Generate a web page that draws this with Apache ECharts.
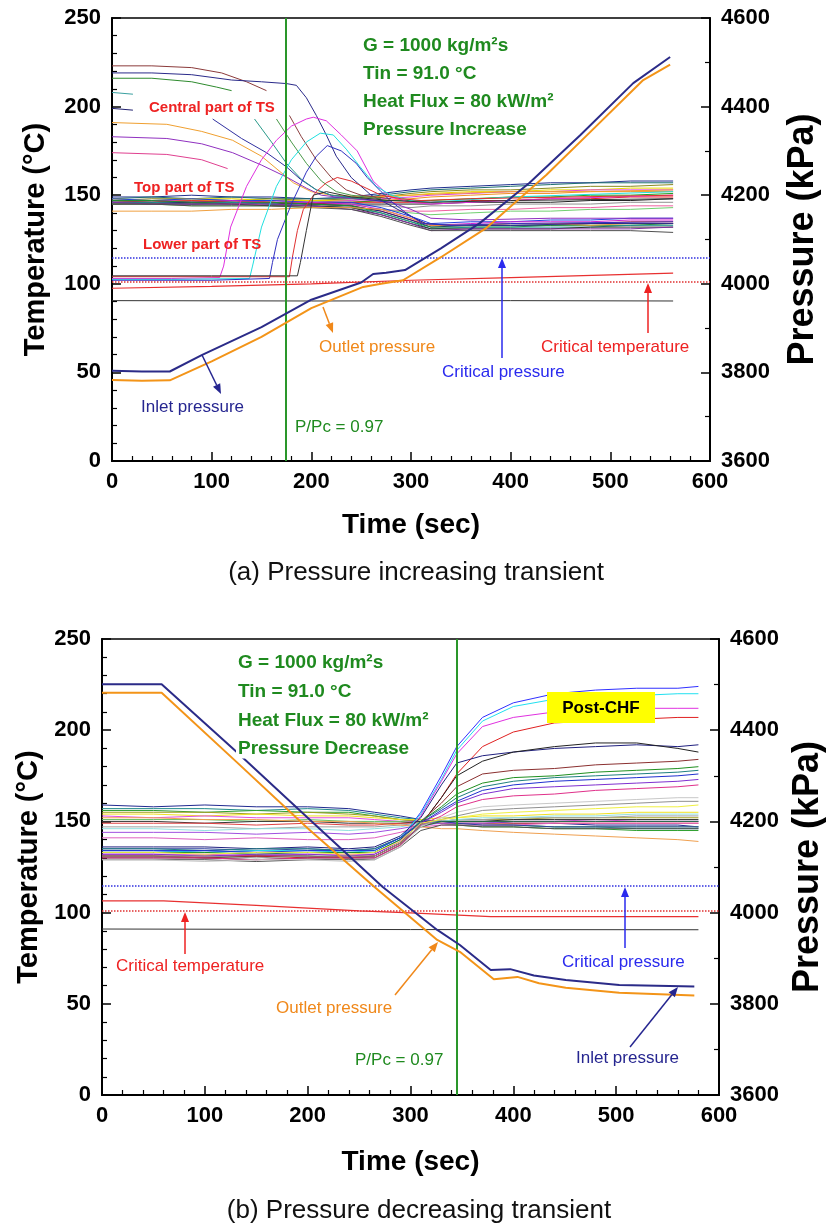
<!DOCTYPE html>
<html lang="en">
<head>
<meta charset="UTF-8"/>
<title>Pressure transients</title>
<script src="https://cdn.jsdelivr.net/npm/echarts@6/dist/echarts.min.js"></script>
<style>
    html, body { margin: 0; padding: 0; background: #fff; }
    #chart { width: 831px; height: 1226px; }
</style>
</head>
<body>
<div id="chart"></div>
<script type="text/javascript">
// ===== (a) pressure increasing transient =====
// time grid shared by the "top part of TS" wall temperatures
var timeA = [0, 40, 80, 120, 160, 200, 240, 270, 300, 320, 360, 400, 440, 480, 520, 563];
// lines that end in the upper bundle
var upA1 = [149, 149, 150, 149, 149, 148, 149, 151, 153, 154, 155, 156, 157, 157, 158, 158];
var upA2 = [148, 149, 148, 149, 148, 148, 148, 150, 152, 153, 154, 155, 156, 157, 157, 157];
var upA3 = [147, 148, 148, 147, 148, 147, 148, 149, 151, 152, 153, 153, 154, 155, 155, 156];
var upA4 = [148, 147, 148, 148, 147, 147, 147, 149, 150, 151, 152, 152, 153, 153, 154, 154];
var upA5 = [146, 147, 147, 146, 147, 146, 147, 148, 149, 150, 151, 152, 152, 153, 153, 153];
var upA6 = [147, 146, 147, 147, 146, 146, 146, 147, 148, 149, 150, 151, 151, 152, 152, 152];
var upA7 = [146, 146, 146, 146, 145, 146, 146, 147, 147, 147, 148, 149, 149, 150, 150, 151];
var upA8 = [147, 147, 146, 147, 146, 145, 146, 146, 146, 146, 147, 147, 148, 148, 149, 149];
var upA9 = [146, 145, 146, 145, 146, 145, 145, 145, 145, 145, 146, 146, 146, 147, 147, 148];
var upA10 = [145, 146, 145, 145, 145, 144, 144, 144, 143, 144, 144, 145, 145, 145, 146, 146];
var upA11 = [146, 145, 145, 146, 144, 144, 143, 142, 141, 141, 142, 142, 143, 143, 144, 144];
var upA12 = [145, 145, 144, 144, 144, 143, 143, 142, 140, 139, 140, 141, 141, 142, 142, 143];
// lines that drop into the lower bundle
var loA1 = [148, 147, 148, 147, 147, 146, 146, 143, 138, 134, 135, 135, 136, 136, 137, 137];
var loA2 = [147, 147, 146, 147, 146, 146, 145, 142, 137, 133, 134, 135, 135, 135, 136, 136];
var loA3 = [147, 146, 147, 146, 146, 145, 144, 141, 136, 133, 133, 134, 134, 134, 135, 135];
var loA4 = [146, 146, 146, 146, 145, 145, 144, 141, 136, 132, 133, 133, 133, 134, 134, 134];
var loA5 = [147, 147, 146, 146, 146, 145, 144, 140, 135, 132, 132, 132, 133, 133, 133, 134];
var loA6 = [146, 146, 145, 146, 145, 144, 143, 140, 135, 131, 132, 132, 132, 132, 133, 133];
var loA7 = [145, 145, 145, 145, 144, 144, 143, 139, 134, 131, 131, 131, 131, 132, 132, 132];
var loA8 = [146, 145, 145, 145, 145, 144, 142, 139, 134, 130, 131, 131, 131, 131, 131, 132];
var loA9 = [145, 145, 144, 144, 144, 143, 142, 138, 133, 130, 130, 130, 130, 130, 130, 129];
var loA10 = [141, 141, 141, 142, 142, 143, 143, 142, 137, 133, 133, 134, 134, 133, 134, 134];

// central part of TS: [time, temperature]
var cenBrown = [[0, 223], [40, 223], [80, 222], [110, 219], [135, 214], [155, 209]];
var cenNavy = [[0, 219], [40, 219], [80, 218], [120, 215], [150, 214], [175, 213], [185, 212], [195, 205], [205, 195], [215, 184], [225, 172], [240, 160], [260, 150], [280, 144], [300, 138], [315, 134], [340, 133], [400, 133], [480, 134], [563, 134]];
var cenGreen = [[0, 216], [40, 216], [80, 214], [105, 211], [120, 209]];
var cenTeal = [[0, 208], [21, 207]];
var cenNavyShort = [[0, 199], [21, 198]];
var cenOrange = [[0, 191], [55, 190], [90, 186], [121, 181], [150, 172], [182, 157], [200, 152], [220, 150], [260, 149], [300, 150], [340, 151], [400, 152], [480, 152], [563, 153]];
var cenPurple = [[0, 183], [55, 182], [90, 179], [121, 174], [150, 167], [176, 160], [195, 154], [210, 150], [240, 148], [280, 146], [300, 142], [320, 137], [360, 136], [440, 137], [563, 137]];
var cenPink = [[0, 174], [55, 173], [90, 170], [116, 165]];
var cenNavyMid = [[101, 193], [130, 182], [155, 174], [175, 166], [189, 159], [205, 153], [220, 150], [250, 148], [280, 146]];
var cenTealMid = [[143, 193], [160, 180], [175, 168], [190, 159], [205, 153], [220, 150], [250, 148]];
var cenGreenMid = [[165, 193], [180, 180], [195, 168], [210, 158], [225, 152], [240, 150], [270, 148]];
var cenBrownMid = [[178, 195], [190, 183], [205, 170], [220, 160], [235, 153], [250, 150], [280, 148]];

// lower part of TS: flat, then a sharp rise (dryout front)
var lowMagenta = [[0, 103], [60, 103], [108, 103.5], [112, 110], [119, 132], [135, 155], [150, 170], [165, 181], [180, 189], [195, 193], [202, 194], [215, 192], [230, 184], [246, 175], [262, 158], [279, 149], [300, 146], [320, 145], [360, 146], [440, 148], [563, 150]];
var lowCyan = [[0, 102.5], [60, 102.5], [138, 103], [141, 110], [150, 132], [165, 155], [180, 170], [195, 180], [209, 185], [222, 184], [235, 176], [249, 166], [265, 155], [280, 150], [300, 147], [320, 146], [400, 149], [563, 152]];
var lowNavy = [[0, 102], [100, 102], [158, 103], [161, 112], [166, 125], [180, 145], [195, 163], [205, 172], [216, 178], [230, 175], [245, 168], [256, 160], [270, 152], [279, 147], [295, 140], [312, 134], [340, 133], [400, 134], [563, 135]];
var lowRed = [[0, 104], [100, 104], [178, 104], [181, 115], [186, 130], [192, 142], [205, 152], [215, 157], [226, 160], [240, 158], [255, 154], [270, 150], [290, 148], [310, 147], [360, 148], [563, 150]];
var lowBlack = [[0, 104.5], [100, 104.5], [186, 104.5], [189, 112], [195, 130], [202, 150], [215, 152], [240, 149], [280, 147], [320, 146], [400, 147], [563, 148]];

// fluid temperatures
var outTempA = [[0, 97.5], [100, 98.5], [200, 100], [300, 102], [400, 103.5], [500, 105], [563, 106]];
var inTempA = [[0, 90.5], [200, 90.3], [400, 90.5], [563, 90.3]];

// pressures (kPa)
var inletPA = [[0, 3804], [30, 3802], [58, 3802], [90, 3839], [150, 3902], [200, 3964], [250, 4003], [262, 4022], [275, 4025], [294, 4031], [330, 4080], [369, 4137], [419, 4228], [470, 4336], [523, 4453], [560, 4512]];
var outletPA = [[0, 3783], [30, 3781], [58, 3782], [100, 3825], [150, 3880], [200, 3945], [252, 3993], [270, 4000], [292, 4008], [330, 4060], [375, 4125], [436, 4246], [480, 4343], [533, 4460], [560, 4495]];
var ppcTimeA = 174;

// ===== (b) pressure decreasing transient =====
var timeB = [0, 50, 100, 150, 200, 240, 265, 290, 310, 330, 345, 370, 400, 440, 480, 520, 560, 580];
// post-CHF lines (start in the lower group)
var chfB1 = [133, 133, 134, 133, 133, 133, 133, 140, 155, 175, 191, 207, 215, 220, 222, 223, 223, 224];
var chfB2 = [134, 134, 133, 134, 134, 133, 134, 141, 154, 173, 189, 205, 213, 217, 219, 219, 220, 220];
var chfB3 = [132, 132, 132, 131, 132, 132, 132, 139, 153, 172, 187, 202, 207, 210, 211, 212, 212, 212];
var chfB4 = [131, 131, 131, 131, 130, 131, 131, 138, 148, 163, 176, 191, 199, 204, 205, 206, 207, 207];
var chfB5 = [136, 136, 136, 135, 136, 135, 136, 142, 152, 170, 182, 186, 188, 190, 191, 192, 191, 192];
var chfB6 = [130, 130, 130, 129, 130, 130, 130, 137, 148, 163, 175, 183, 188, 191, 193, 193, 190, 188];
var chfB7 = [131, 131, 130, 131, 131, 130, 131, 138, 150, 160, 169, 176, 178, 179, 181, 182, 183, 184];
var chfB8 = [133, 133, 133, 132, 133, 133, 133, 140, 150, 158, 165, 171, 174, 175, 177, 178, 179, 180];
var chfB9 = [135, 135, 134, 135, 135, 134, 135, 141, 150, 157, 163, 169, 172, 174, 175, 176, 177, 178];
var chfB10 = [134, 134, 134, 133, 134, 134, 134, 141, 149, 156, 161, 167, 170, 172, 173, 174, 175, 176];
var chfB11 = [132, 132, 131, 132, 132, 131, 132, 139, 149, 155, 160, 165, 168, 169, 170, 171, 172, 173];
var chfB12 = [130, 130, 130, 129, 130, 130, 130, 137, 148, 153, 158, 162, 164, 165, 167, 168, 169, 170];
var chfB13 = [129, 129, 128, 129, 129, 128, 129, 136, 147, 152, 155, 158, 159, 160, 161, 162, 163, 163];
var chfB14 = [131, 131, 131, 130, 131, 131, 131, 138, 148, 151, 153, 156, 157, 158, 159, 160, 161, 161];
var chfB15 = [133, 133, 132, 133, 133, 132, 133, 139, 149, 151, 152, 154, 155, 156, 157, 158, 158, 159];
// upper group, converging near 150
var upB1 = [159, 158, 159, 158, 158, 157, 155, 153, 151, 150, 150, 150, 149, 149, 148, 148, 148, 147];
var upB2 = [157, 157, 157, 156, 157, 156, 154, 152, 151, 150, 149, 149, 148, 147, 147, 146, 146, 146];
var upB3 = [156, 156, 155, 156, 155, 155, 153, 151, 150, 149, 148, 147, 147, 146, 146, 145, 145, 145];
var upB4 = [155, 155, 155, 154, 155, 154, 153, 151, 150, 150, 151, 151, 151, 152, 152, 152, 152, 152];
var upB5 = [154, 154, 153, 154, 153, 153, 152, 151, 151, 152, 152, 153, 153, 154, 154, 155, 155, 155];
var upB6 = [153, 152, 153, 152, 152, 152, 151, 150, 150, 150, 150, 150, 150, 150, 151, 150, 150, 150];
var upB7 = [151, 151, 151, 150, 151, 150, 150, 150, 149, 149, 148, 148, 148, 147, 147, 147, 147, 147];
var upB8 = [150, 150, 149, 150, 150, 149, 149, 149, 150, 150, 150, 150, 151, 151, 151, 151, 151, 151];
var upB9 = [149, 149, 149, 148, 149, 148, 148, 149, 149, 149, 149, 149, 149, 149, 149, 149, 149, 149];
var upB10 = [147, 147, 147, 146, 147, 147, 147, 148, 149, 150, 151, 151, 152, 152, 152, 153, 153, 153];
var upB11 = [146, 146, 145, 146, 146, 145, 146, 147, 149, 150, 151, 152, 152, 153, 153, 154, 154, 154];
var upB12 = [144, 144, 144, 143, 144, 143, 144, 146, 148, 149, 149, 149, 150, 150, 150, 150, 150, 150];
var upB13 = [141, 141, 140, 141, 140, 140, 141, 144, 147, 148, 148, 148, 148, 149, 149, 149, 149, 149];
var upB14 = [152, 152, 151, 151, 150, 150, 149, 148, 147, 146, 146, 145, 144, 143, 142, 141, 140, 139];
// lower group that stays near 150
var loB1 = [135, 135, 135, 134, 135, 134, 135, 141, 149, 150, 149, 148, 148, 147, 147, 147, 147, 147];
var loB2 = [131, 131, 130, 131, 131, 130, 131, 138, 147, 150, 150, 150, 150, 150, 150, 150, 150, 150];
var loB3 = [129, 129, 129, 128, 129, 129, 129, 136, 145, 148, 148, 147, 147, 146, 146, 146, 146, 146];

var outTempB = [[0, 106.4], [60, 106.4], [150, 104], [250, 101], [300, 99.8], [378, 97.8], [580, 97.8]];
var inTempB = [[0, 91], [300, 90.7], [580, 90.6]];
var inletPB = [[0, 4501], [58, 4501], [131, 4352], [200, 4208], [273, 4056], [326, 3962], [348, 3929], [378, 3874], [397, 3876], [420, 3862], [451, 3852], [503, 3841], [576, 3838]];
var outletPB = [[0, 4482], [58, 4482], [131, 4330], [200, 4185], [265, 4056], [326, 3940], [348, 3914], [381, 3854], [404, 3859], [425, 3845], [451, 3835], [503, 3824], [576, 3818]];
var ppcTimeB = 345;

// reference levels for R-134a
var critTemp = 101;      // degC
var critPress = 4059;    // kPa

var FONT = '"Liberation Sans", Arial, sans-serif';

var chart = echarts.init(document.getElementById('chart'));

function zip(times, vals) {
    return times.map(function (t, i) { return [t, vals[i]]; });
}

function line(data, color, width, gi, yi, z) {
    return {
        type: 'line', xAxisIndex: gi, yAxisIndex: yi, data: data,
        showSymbol: false, symbol: 'none', silent: true, z: z || 2,
        lineStyle: { color: color, width: width || 1 }
    };
}

var series = [];
// (a) bundle lines
var upAList = [upA1, upA2, upA3, upA4, upA5, upA6, upA7, upA8, upA9, upA10, upA11, upA12];
var upAColors = ['#1f2f8f', '#1d6f6f', '#8a8a20', '#e8d800', '#e040e0', '#f09020', '#20a020', '#e02020', '#222222', '#909090', '#f060a0', '#70d070'];
upAList.forEach(function (v, i) { series.push(line(zip(timeA, v), upAColors[i], 1, 0, 0)); });
var loAList = [loA1, loA2, loA3, loA4, loA5, loA6, loA7, loA8, loA9, loA10];
var loAColors = ['#2040e0', '#d020d0', '#e03030', '#202080', '#209030', '#209090', '#303030', '#8030a0', '#505050', '#f0a040'];
loAList.forEach(function (v, i) { series.push(line(zip(timeA, v), loAColors[i], 1, 0, 0)); });
// (a) central and lower parts
var pairAList = [cenBrown, cenNavy, cenGreen, cenTeal, cenNavyShort, cenOrange, cenPurple, cenPink,
    cenNavyMid, cenTealMid, cenGreenMid, cenBrownMid, lowMagenta, lowCyan, lowNavy, lowRed, lowBlack];
var pairAColors = ['#8b3a3a', '#2a2a8a', '#2e8b2e', '#3aa0a0', '#202070', '#f0a030', '#9030c0', '#e04090',
    '#3030a0', '#2a9a8a', '#4a9a4a', '#8b4040', '#e030e0', '#20e0e0', '#3030c0', '#e03030', '#333333'];
pairAList.forEach(function (v, i) { series.push(line(v, pairAColors[i], 1, 0, 0)); });

var inTempSeriesA = line(inTempA, '#333333', 1, 0, 0);
inTempSeriesA.markLine = {
    symbol: 'none', silent: true, label: { show: false }, animation: false,
    data: [
        { xAxis: ppcTimeA, lineStyle: { color: '#2a962a', width: 2, type: 'solid' } },
        { yAxis: critTemp, lineStyle: { color: '#e03030', width: 1.5, type: 'dotted' } }
    ]
};
series.push(inTempSeriesA);
series.push(line(outTempA, '#e83030', 1.2, 0, 0));
var inletSeriesA = line(inletPA, '#2b2b88', 2, 0, 1, 5);
inletSeriesA.markLine = {
    symbol: 'none', silent: true, label: { show: false }, animation: false,
    data: [{ yAxis: critPress, lineStyle: { color: '#3030e0', width: 1.5, type: 'dotted' } }]
};
series.push(inletSeriesA);
series.push(line(outletPA, '#f39418', 2, 0, 1, 5));

// (b)
var chfBList = [chfB1, chfB2, chfB3, chfB4, chfB5, chfB6, chfB7, chfB8, chfB9, chfB10, chfB11, chfB12, chfB13, chfB14, chfB15];
var chfBColors = ['#3030ff', '#20e0f0', '#e030e0', '#e02020', '#202080', '#222222', '#8b3030', '#209020', '#208080', '#2030d0', '#8030d0', '#e0308a', '#c8c8c8', '#909090', '#f0f040'];
var upBList = [upB1, upB2, upB3, upB4, upB5, upB6, upB7, upB8, upB9, upB10, upB11, upB12, upB13, upB14];
var upBColors = ['#202a90', '#208a8a', '#30a030', '#a0a020', '#f0e020', '#e050e0', '#60c060', '#333333', '#e04040', '#a0a0a0', '#90e0e0', '#a050e0', '#e060c0', '#f0a050'];
var loBList = [loB1, loB2, loB3];
var loBColors = ['#3040a0', '#207040', '#505050'];
upBList.forEach(function (v, i) { series.push(line(zip(timeB, v), upBColors[i], 1, 1, 2)); });
loBList.forEach(function (v, i) { series.push(line(zip(timeB, v), loBColors[i], 1, 1, 2)); });
chfBList.forEach(function (v, i) { series.push(line(zip(timeB, v), chfBColors[i], 1, 1, 2)); });

var inTempSeriesB = line(inTempB, '#333333', 1, 1, 2);
inTempSeriesB.markLine = {
    symbol: 'none', silent: true, label: { show: false }, animation: false,
    data: [
        { xAxis: ppcTimeB, lineStyle: { color: '#2a962a', width: 2, type: 'solid' } },
        { yAxis: critTemp, lineStyle: { color: '#e03030', width: 1.5, type: 'dotted' } }
    ]
};
series.push(inTempSeriesB);
series.push(line(outTempB, '#e83030', 1.2, 1, 2));
var inletSeriesB = line(inletPB, '#2b2b88', 2, 1, 3, 5);
inletSeriesB.markLine = {
    symbol: 'none', silent: true, label: { show: false }, animation: false,
    data: [{ yAxis: critPress, lineStyle: { color: '#3030e0', width: 1.5, type: 'dotted' } }]
};
series.push(inletSeriesB);
series.push(line(outletPB, '#f39418', 2, 1, 3, 5));

// ---- axes
var labelStyle = { fontFamily: FONT, fontWeight: 'bold', fontSize: 22, color: '#000' };
function plain(v) { return String(v); }
// ticks point into the plot (minor ticks follow axisTick.inside)
var tickStyle = { inside: true, length: 9, lineStyle: { color: '#000', width: 1.5 } };
function minor(n) {
    return { show: true, splitNumber: n, length: 5, lineStyle: { color: '#000', width: 1.2 } };
}
function xAx(gi, gap) {
    return {
        type: 'value', gridIndex: gi, min: 0, max: 600, interval: 100,
        name: 'Time (sec)', nameLocation: 'middle', nameGap: gap,
        nameTextStyle: { fontFamily: FONT, fontWeight: 'bold', fontSize: 28, color: '#000' },
        axisLine: { onZero: false, lineStyle: { color: '#000', width: 2 } },
        axisTick: tickStyle,
        minorTick: minor(5),
        axisLabel: Object.assign({ margin: 10, formatter: plain }, labelStyle),
        splitLine: { show: false }
    };
}
function tempAx(gi, gap) {
    return {
        type: 'value', gridIndex: gi, min: 0, max: 250, interval: 50, position: 'left',
        name: 'Temperature (°C)', nameLocation: 'middle', nameGap: gap, nameRotate: 90,
        nameTextStyle: { fontFamily: FONT, fontWeight: 'bold', fontSize: 29, color: '#000' },
        axisLine: { onZero: false, lineStyle: { color: '#000', width: 2 } },
        axisTick: tickStyle,
        minorTick: minor(5),
        axisLabel: Object.assign({ margin: 11, formatter: plain }, labelStyle),
        splitLine: { show: false }
    };
}
function pressAx(gi, gap) {
    return {
        type: 'value', gridIndex: gi, min: 3600, max: 4600, interval: 200, position: 'right',
        name: 'Pressure (kPa)', nameLocation: 'middle', nameGap: gap, nameRotate: 90,
        nameTextStyle: { fontFamily: FONT, fontWeight: 'bold', fontSize: 36, color: '#000' },
        axisLine: { onZero: false, lineStyle: { color: '#000', width: 2 } },
        axisTick: tickStyle,
        minorTick: minor(2),
        axisLabel: Object.assign({ margin: 11, formatter: plain }, labelStyle),
        splitLine: { show: false }
    };
}

// ---- annotations (pixel layout)
function txt(x, y, s, color, size, weight, align, bg) {
    var st = {
        text: s, fill: color, font: (weight || 'normal') + ' ' + size + 'px ' + FONT,
        textAlign: align || 'left', align: align || 'left',
        textVerticalAlign: 'middle', verticalAlign: 'middle'
    };
    if (bg) { st.backgroundColor = bg; st.padding = [0, 2]; }
    return { type: 'text', x: x, y: y, z: 100, silent: true, style: st };
}
function arrow(x1, y1, x2, y2, color) {
    var a = Math.atan2(y2 - y1, x2 - x1), len = 10, hw = 4;
    var bx = x2 - len * Math.cos(a), by = y2 - len * Math.sin(a);
    var px = -Math.sin(a) * hw, py = Math.cos(a) * hw;
    return [
        { type: 'line', z: 100, silent: true, shape: { x1: x1, y1: y1, x2: bx, y2: by }, style: { stroke: color, lineWidth: 1.5 } },
        { type: 'polygon', z: 100, silent: true, shape: { points: [[x2, y2], [bx + px, by + py], [bx - px, by - py]] }, style: { fill: color } }
    ];
}

var GREEN = '#1f8a1f', RED = '#ee2222', ORANGE = '#f0881a', BLUE = '#2a2aee', NAVY = '#262690';
var graphics = [
    // (a)
    txt(363, 46, 'G = 1000 kg/m²s', GREEN, 19, 'bold'),
    txt(363, 74, 'Tin = 91.0 °C', GREEN, 19, 'bold'),
    txt(363, 102, 'Heat Flux = 80 kW/m²', GREEN, 19, 'bold'),
    txt(363, 130, 'Pressure Increase', GREEN, 19, 'bold'),
    txt(149, 108, 'Central part of TS', RED, 15, 'bold'),
    txt(134, 188, 'Top part of TS', RED, 15, 'bold'),
    txt(143, 245, 'Lower part of TS', RED, 15, 'bold'),
    txt(319, 347, 'Outlet pressure', ORANGE, 17),
    txt(541, 347, 'Critical temperature', RED, 17),
    txt(442, 372, 'Critical pressure', BLUE, 17),
    txt(141, 407, 'Inlet pressure', NAVY, 17),
    txt(295, 427, 'P/Pc = 0.97', GREEN, 17),
    txt(416, 573, '(a) Pressure increasing transient', '#111', 26, 'normal', 'center'),
    // (b)
    txt(238, 663, 'G = 1000 kg/m²s', GREEN, 19, 'bold'),
    txt(238, 692, 'Tin = 91.0 °C', GREEN, 19, 'bold'),
    txt(238, 721, 'Heat Flux = 80 kW/m²', GREEN, 19, 'bold'),
    txt(236, 749, 'Pressure Decrease', GREEN, 19, 'bold', 'left', '#fff'),
    { type: 'rect', z: 99, silent: true, shape: { x: 547, y: 692, width: 108, height: 31 }, style: { fill: '#ffff00' } },
    txt(601, 708, 'Post-CHF', '#000', 17, 'bold', 'center'),
    txt(116, 966, 'Critical temperature', RED, 17),
    txt(562, 962, 'Critical pressure', BLUE, 17),
    txt(276, 1008, 'Outlet pressure', ORANGE, 17),
    txt(355, 1060, 'P/Pc = 0.97', GREEN, 17),
    txt(576, 1058, 'Inlet pressure', NAVY, 17),
    txt(419, 1211, '(b) Pressure decreasing transient', '#111', 26, 'normal', 'center')
];
graphics = graphics.concat(
    arrow(202, 355, 221, 394, NAVY),
    arrow(323, 307, 333, 333, ORANGE),
    arrow(502, 358, 502, 258, BLUE),
    arrow(648, 333, 648, 283, RED),
    arrow(185, 954, 185, 912, RED),
    arrow(625, 948, 625, 887, BLUE),
    arrow(395, 995, 438, 942, ORANGE),
    arrow(630, 1047, 678, 987, NAVY)
);

var option = {
    animation: false,
    backgroundColor: '#fff',
    grid: [
        { left: 112, top: 18, width: 598, height: 443, show: true, borderColor: '#000', borderWidth: 1.5, outerBoundsMode: 'none' },
        { left: 102, top: 639, width: 617, height: 456, show: true, borderColor: '#000', borderWidth: 1.5, outerBoundsMode: 'none' }
    ],
    xAxis: [xAx(0, 50), xAx(1, 53)],
    yAxis: [tempAx(0, 62), pressAx(0, 75), tempAx(1, 48), pressAx(1, 68)],
    series: series,
    graphic: graphics
};

chart.setOption(option);
</script>
</body>
</html>
